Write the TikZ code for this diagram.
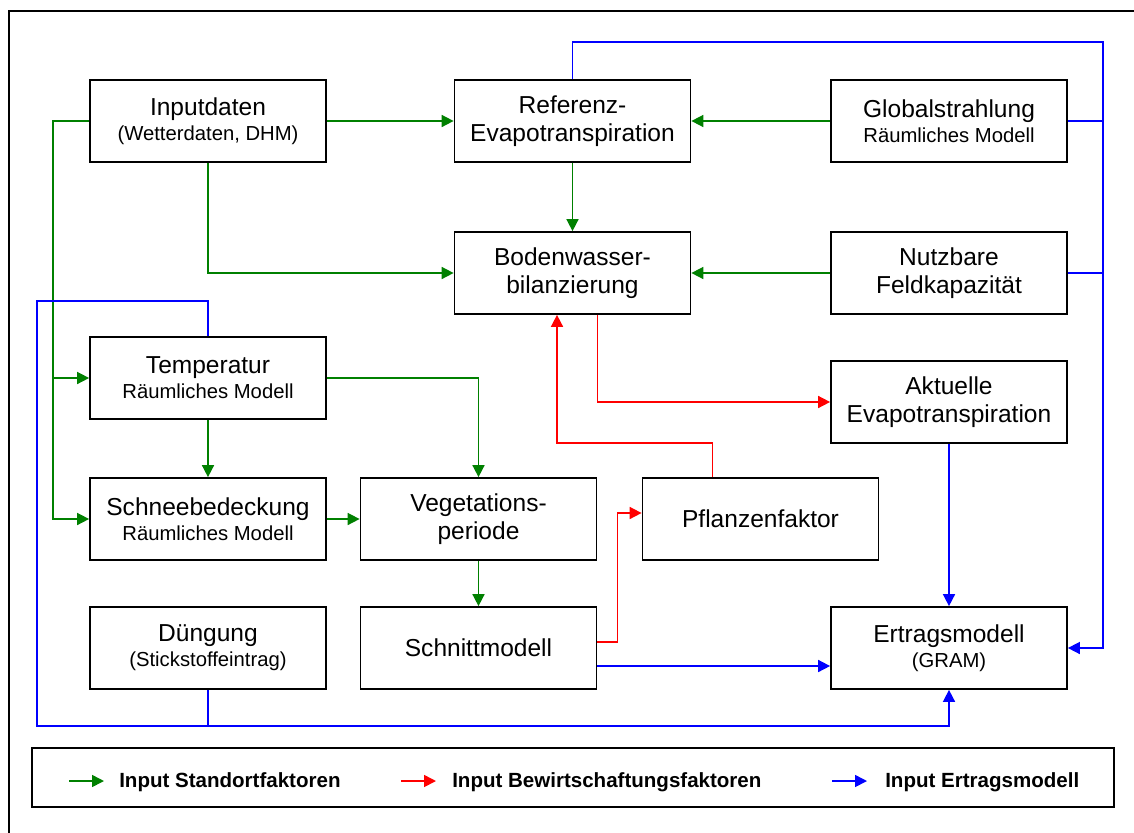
\documentclass[tikz,border=0pt]{standalone}
\usepackage{fontspec}
\setmainfont{Liberation Sans}
\usetikzlibrary{arrows.meta,calc,positioning}
\definecolor{stgruen}{RGB}{0,128,0}
\definecolor{bwrot}{RGB}{255,0,0}
\definecolor{erblau}{RGB}{0,0,255}
\newcommand{\unter}[1]{{\fontsize{15.2}{18}\selectfont #1}}

\begin{document}
\begin{tikzpicture}[x=0.75pt, y=-0.75pt,
		box/.style={draw, line width=1.3pt, minimum width=177pt, minimum height=61.5pt, inner sep=0pt, align=center, font=\fontsize{18.4}{21.4}\selectfont},
		gr/.style={draw=stgruen, line width=1.2pt, -{Triangle[length=9pt,width=9pt]}},
		rt/.style={draw=bwrot, line width=1.2pt, -{Triangle[length=9pt,width=9pt]}},
		bl/.style={draw=erblau, line width=1.2pt, -{Triangle[length=9pt,width=9pt]}},
		legtext/.style={anchor=west, inner sep=0pt, font=\fontsize{15.4}{18}\selectfont\bfseries}]
		\useasboundingbox (0,0) rectangle (1134,832);
		\draw [line width=1.6pt] (9,845) |- (1145,11);
		% Kaesten
		\node [box] (inp) at (208,121) {Inputdaten\\[-2.6pt]\unter{(Wetterdaten, DHM)}};
		\node [box] (ref) at (572.5,121) {Referenz-\\Evapotranspiration};
		\node [box] (glob) at (949,121) {Globalstrahlung\\[-2.6pt]\unter{Räumliches Modell}};
		\node [box] (bod) at (572.5,273) {Bodenwasser-\\bilanzierung};
		\node [box] (nutz) at (949,273) {Nutzbare\\Feldkapazität};
		\node [box] (tmp) at (208,378) {Temperatur\\[-2.6pt]\unter{Räumliches Modell}};
		\node [box] (akt) at (949,402) {Aktuelle\\Evapotranspiration};
		\node [box] (sch) at (208,519) {Schneebedeckung\\[-2.6pt]\unter{Räumliches Modell}};
		\node [box] (veg) at (478.5,519) {Vegetations-\\periode};
		\node [box] (pfl) at (760.5,519) {Pflanzenfaktor};
		\node [box] (dng) at (208,648) {Düngung\\[-2.6pt]\unter{(Stickstoffeintrag)}};
		\node [box] (sn) at (478.5,648) {Schnittmodell};
		\node [box] (ert) at (949,648) {Ertragsmodell\\[-2.6pt]\unter{(GRAM)}};
		% Hilfspunkte
		\coordinate (gbus) at (53,121);
		\coordinate (boben) at (1103,42);
		\coordinate (blinks) at (37,301);
		\coordinate (bunten) at (37,726);
		\coordinate (rknick) at (557,443);
		% Standortfaktoren
		\draw [gr] (inp.east) -- (ref.west);
		\draw [gr] (glob.west) -- (ref.east);
		\draw [gr] (ref.south) -- (bod.north);
		\draw [gr] (inp.south) |- (bod.west);
		\draw [gr] (nutz.west) -- (bod.east);
		\draw [gr] (inp.west) -- (gbus) |- (tmp.west);
		\draw [gr] (gbus) |- (sch.west);
		\draw [gr] (tmp.south) -- (sch.north);
		\draw [gr] (tmp.east) -| (veg.north);
		\draw [gr] (sch.east) -- (veg.west);
		\draw [gr] (veg.south) -- (sn.north);
		% Bewirtschaftungsfaktoren
		\draw [rt] ($(bod.south)+(25,0)$) |- (akt.west);
		\draw [rt] ($(pfl.north)+(-48,0)$) |- (rknick) -- (rknick |- bod.south);
		\draw [rt] ($(sn.east)+(0,-6)$) -| ($(pfl.west)+(-24,-6)$) -- ($(pfl.west)+(0,-6)$);
		% Ertragsmodell
		\draw [bl] (ref.north) |- (boben) |- (ert.east);
		\draw [bl, -] (glob.east) -- (glob.east -| boben);
		\draw [bl, -] (nutz.east) -- (nutz.east -| boben);
		\draw [bl] (akt.south) -- (ert.north);
		\draw [bl] ($(sn.east)+(0,18)$) -- ($(ert.west)+(0,18)$);
		\draw [bl] (tmp.north) |- (blinks) -- (bunten) -| (ert.south);
		\draw [bl, -] (dng.south) -- (dng.south |- bunten);
		% Legende
		\node [draw, line width=1.3pt, minimum width=811.5pt, minimum height=44.25pt, inner sep=0pt] (leg) at (573,777.5) {};
		\node [legtext] (lga) at (119,782) {Input Standortfaktoren};
		\node [legtext] (lgb) at (452,782) {Input Bewirtschaftungsfaktoren};
		\node [legtext] (lgc) at (885,782) {Input Ertragsmodell};
		\draw [gr] ($(lga.west)+(-50,-1)$) -- ($(lga.west)+(-15,-1)$);
		\draw [rt] ($(lgb.west)+(-51,-1)$) -- ($(lgb.west)+(-16,-1)$);
		\draw [bl] ($(lgc.west)+(-53,-1)$) -- ($(lgc.west)+(-18,-1)$);
	\end{tikzpicture}
\end{document}
